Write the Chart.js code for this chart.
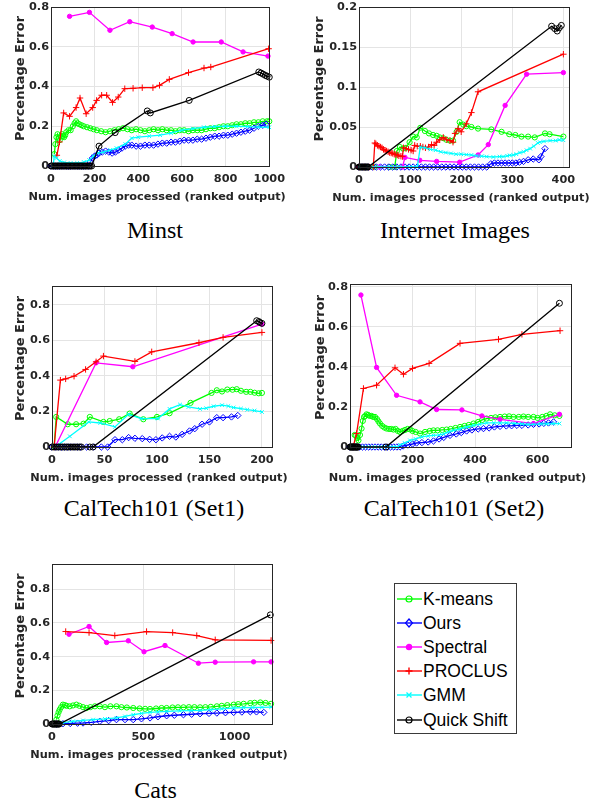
<!DOCTYPE html>
<html>
<head>
<meta charset="utf-8">
<script src="https://cdn.jsdelivr.net/npm/chart.js@4.4.0/dist/chart.umd.min.js"></script>
<style>
    body { margin: 0; background: #fff; width: 596px; height: 803px; position: relative; overflow: hidden; }
    canvas { position: absolute; }
    .title { position: absolute; font-family: "Liberation Serif", "Times New Roman", serif; font-size: 24px; color: #000; white-space: nowrap; transform: translate(-50%, -50%); }
    #legend { position: absolute; left: 394px; top: 583px; width: 121px; height: 149px; border: 1px solid #3a3a3a; background: #fff; }
    .entry { position: absolute; left: 0; height: 24px; font-family: "Liberation Sans", Arial, sans-serif; font-size: 17.5px; color: #000; white-space: nowrap; }
    .entry svg { position: absolute; left: 2px; top: 5px; }
    .entry span { position: absolute; left: 28px; top: 1px; line-height: 22px; }
</style>
</head>
<body>
<div id="legend"></div>
<script>
// series order: K-means, Ours, Spectral, PROCLUS, GMM, Quick Shift
const seriesNames = ["K-means", "Ours", "Spectral", "PROCLUS", "GMM", "Quick Shift"];

// ---- Minst ----
const minstXTicks = [0, 200, 400, 600, 800, 1000];
const minstYTicks = [0, 0.2, 0.4, 0.6, 0.8];
const minstKmeans = [[15,0.06],[20,0.11],[25,0.145],[30,0.16],[35,0.14],[40,0.13],[45,0.15],[50,0.16],[55,0.15],[60,0.145],[65,0.155],[70,0.17],[80,0.18],[90,0.18],[100,0.2],[108,0.215],[115,0.225],[122,0.215],[130,0.21],[140,0.205],[150,0.2],[165,0.195],[180,0.19],[195,0.185],[210,0.18],[230,0.175],[250,0.17],[270,0.175],[290,0.18],[310,0.185],[330,0.19],[350,0.185],[370,0.18],[390,0.185],[410,0.18],[430,0.175],[450,0.18],[470,0.185],[490,0.18],[510,0.185],[530,0.18],[550,0.18],[570,0.175],[590,0.18],[610,0.18],[630,0.175],[650,0.18],[670,0.18],[690,0.18],[710,0.185],[730,0.19],[750,0.19],[770,0.195],[790,0.2],[810,0.2],[830,0.205],[850,0.21],[870,0.21],[890,0.215],[910,0.215],[930,0.22],[950,0.22],[970,0.225],[990,0.225],[1000,0.225]];
const minstOurs = [[0,0],[10,0],[20,0],[30,0],[40,0],[50,0],[60,0],[70,0],[80,0],[90,0],[100,0],[110,0],[120,0],[130,0],[140,0],[150,0],[160,0],[170,0],[180,0.02],[190,0.04],[200,0.05],[210,0.055],[220,0.065],[235,0.07],[250,0.075],[265,0.07],[280,0.065],[295,0.07],[310,0.08],[325,0.09],[340,0.1],[355,0.105],[370,0.105],[390,0.1],[410,0.1],[430,0.105],[450,0.105],[470,0.105],[490,0.11],[510,0.115],[530,0.115],[550,0.12],[570,0.12],[590,0.125],[610,0.13],[630,0.13],[650,0.13],[670,0.135],[690,0.135],[710,0.14],[730,0.145],[750,0.15],[770,0.15],[790,0.155],[810,0.155],[830,0.16],[850,0.165],[870,0.17],[890,0.175],[910,0.18],[930,0.19],[950,0.2],[970,0.205],[985,0.21]];
const minstSpectral = [[85,0.753],[176,0.773],[270,0.683],[361,0.726],[464,0.699],[555,0.666],[651,0.624],[780,0.624],[880,0.574],[994,0.553]];
const minstProclus = [[27,0.054],[39,0.121],[58,0.267],[85,0.25],[115,0.294],[133,0.342],[161,0.263],[191,0.294],[209,0.33],[232,0.356],[255,0.356],[282,0.32],[308,0.347],[338,0.389],[376,0.391],[418,0.394],[467,0.394],[497,0.406],[542,0.436],[630,0.47],[701,0.493],[732,0.498],[997,0.59]];
const minstGmm = [[10,0],[15,0.05],[25,0.04],[40,0.025],[60,0.018],[90,0.015],[120,0.015],[150,0.02],[175,0.03],[195,0.05],[215,0.065],[240,0.07],[270,0.08],[300,0.09],[340,0.11],[370,0.14],[400,0.145],[450,0.15],[500,0.155],[550,0.165],[600,0.18],[650,0.188],[700,0.195],[750,0.198],[800,0.2],[850,0.2],[900,0.198],[950,0.196],[1000,0.195]];
const minstQuick = [[0,0],[6,0],[12,0],[18,0],[24,0],[30,0],[36,0],[42,0],[48,0],[54,0],[60,0],[66,0],[72,0],[78,0],[84,0],[90,0],[96,0],[102,0],[108,0],[114,0],[120,0],[126,0],[132,0],[138,0],[144,0],[150,0],[156,0],[162,0],[168,0],[174,0],[180,0],[186,0],[220,0.1],[294,0.168],[441,0.277],[455,0.267],[633,0.33],[952,0.473],[962,0.468],[972,0.462],[982,0.456],[990,0.452],[1000,0.447]];

// ---- Internet Images ----
const netXTicks = [0, 100, 200, 300, 400];
const netYTicks = [0, 0.05, 0.1, 0.15, 0.2];
const netKmeans = [[0,0],[30,0],[60,0],[70,0],[74,0.02],[80,0.025],[86,0.023],[92,0.024],[99,0.031],[106,0.038],[113,0.037],[120,0.049],[129,0.045],[137,0.042],[145,0.04],[152,0.039],[158,0.037],[165,0.036],[171,0.034],[178,0.033],[184,0.033],[191,0.044],[197,0.056],[204,0.053],[210,0.051],[220,0.05],[233,0.048],[259,0.047],[279,0.044],[294,0.041],[306,0.04],[318,0.038],[331,0.038],[344,0.037],[364,0.042],[373,0.041],[400,0.038]];
const netOurs = [[0,0],[6,0],[12,0],[18,0],[26,0],[34,0],[42,0],[50,0],[58,0],[66,0],[74,0],[82,0],[90,0],[98,0],[106,0],[114,0],[122,0],[130,0],[138,0],[146,0],[154,0],[162,0],[170,0],[178,0],[186,0],[194,0],[202,0],[210,0],[218,0],[226,0],[234,0],[242,0],[250,0],[258,0.004],[265,0.005],[272,0.005],[279,0.005],[286,0.005],[293,0.005],[300,0.005],[307,0.005],[314,0.006],[322,0.007],[331,0.009],[341,0.01],[352,0.009],[356,0.013],[364,0.023]];
const netSpectral = [[0,0],[40,0],[85,0],[90,0.012],[119,0.0084],[152,0.007],[197,0.006],[233,0.015],[253,0.028],[286,0.077],[328,0.116],[400,0.118]];
const netProclus = [[0,0],[10,0],[20,0],[28,0],[31,0.03],[33,0.029],[36,0.027],[39,0.026],[42,0.025],[45,0.024],[48,0.022],[51,0.021],[54,0.02],[57,0.019],[60,0.018],[63,0.0175],[66,0.017],[69,0.016],[72,0.0155],[75,0.015],[78,0.014],[82,0.0135],[85,0.013],[87,0.024],[92,0.023],[97,0.022],[102,0.021],[106,0.02],[109,0.027],[114,0.026],[120,0.026],[125,0.025],[130,0.024],[136,0.025],[142,0.028],[147,0.027],[152,0.031],[158,0.034],[165,0.037],[172,0.034],[178,0.033],[184,0.031],[188,0.042],[194,0.048],[200,0.044],[210,0.054],[220,0.068],[233,0.094],[400,0.141]];
const netGmm = [[0,0],[20,0],[40,0],[60,0],[80,0],[100,0],[114,0],[120,0.025],[130,0.024],[140,0.022],[150,0.021],[160,0.019],[170,0.018],[180,0.017],[190,0.016],[200,0.016],[210,0.0155],[220,0.015],[230,0.014],[240,0.0135],[250,0.013],[263,0.0125],[275,0.013],[282,0.013],[290,0.014],[295,0.0146],[302,0.015],[308,0.016],[315,0.018],[322,0.019],[328,0.021],[335,0.023],[342,0.026],[350,0.03],[354,0.031],[362,0.032],[374,0.033],[385,0.033],[392,0.034],[400,0.0335]];
const netQuick = [[0,0],[2,0],[4,0],[6,0],[8,0],[10,0],[12,0],[14,0],[16,0],[18,0],[377,0.176],[383,0.173],[388,0.17],[392,0.174],[396,0.177]];

// ---- CalTech101 (Set1) ----
const set1XTicks = [0, 50, 100, 150, 200];
const set1YTicks = [0, 0.2, 0.4, 0.6, 0.8];
const set1Kmeans = [[2,0],[4,0.169],[15,0.128],[23,0.128],[30,0.131],[36,0.169],[49,0.141],[55,0.146],[64,0.156],[74,0.188],[87,0.156],[100,0.169],[112,0.19],[132,0.248],[152,0.304],[157,0.319],[162,0.312],[167,0.323],[172,0.322],[176,0.325],[180,0.316],[185,0.31],[189,0.31],[193,0.305],[197,0.302],[200,0.304]];
const set1Ours = [[0,0],[3,0],[6,0],[9,0],[12,0],[15,0],[18,0],[21,0],[24,0],[27,0],[33,0],[40,0],[47,0],[53,0],[60,0.041],[67,0.041],[73,0.053],[79,0.049],[86,0.047],[93,0.043],[99,0.041],[105,0.051],[112,0.06],[118,0.056],[124,0.071],[131,0.09],[136,0.103],[143,0.128],[150,0.141],[157,0.165],[163,0.165],[171,0.169],[177,0.177]];
const set1Spectral = [[3,0],[42,0.473],[77,0.451],[200,0.691]];
const set1Proclus = [[2,0],[8,0.376],[13,0.383],[21,0.398],[32,0.436],[42,0.479],[49,0.511],[79,0.481],[95,0.535],[140,0.586],[163,0.616],[200,0.644]];
const set1Gmm = [[3,0],[17,0.06],[35,0.141],[46,0.135],[60,0.113],[73,0.184],[85,0.16],[101,0.16],[112,0.214],[122,0.238],[130,0.225],[141,0.214],[147,0.218],[154,0.229],[162,0.235],[168,0.23],[173,0.222],[180,0.216],[186,0.21],[193,0.205],[200,0.197]];
const set1Quick = [[0,0],[2,0],[4,0],[6,0],[8,0],[10,0],[12,0],[14,0],[16,0],[18,0],[20,0],[22,0],[24,0],[26,0],[28,0],[36,0],[39,0],[195,0.71],[197,0.705],[198,0.7],[200,0.695]];

// ---- CalTech101 (Set2) ----
const set2XTicks = [0, 200, 400, 600];
const set2YTicks = [0, 0.2, 0.4, 0.6, 0.8];
const set2Kmeans = [[15,0.06],[19,0.058],[23,0.045],[27,0.033],[32,0.06],[37,0.092],[41,0.13],[45,0.15],[49,0.155],[53,0.163],[58,0.16],[63,0.155],[69,0.155],[74,0.15],[80,0.15],[86,0.14],[91,0.128],[96,0.117],[103,0.105],[110,0.097],[117,0.092],[125,0.09],[132,0.09],[139,0.087],[146,0.09],[153,0.08],[160,0.075],[168,0.08],[176,0.085],[184,0.09],[192,0.088],[200,0.08],[210,0.075],[224,0.067],[240,0.075],[255,0.08],[267,0.083],[280,0.083],[295,0.085],[309,0.087],[322,0.09],[337,0.095],[352,0.1],[366,0.105],[380,0.11],[395,0.117],[410,0.125],[423,0.135],[437,0.142],[451,0.145],[465,0.148],[480,0.15],[495,0.152],[509,0.153],[523,0.15],[540,0.15],[555,0.152],[570,0.15],[587,0.15],[600,0.145],[615,0.15],[628,0.155],[640,0.163],[655,0.158],[670,0.155]];
const set2Ours = [[0,0],[10,0],[20,0],[30,0],[40,0],[50,0],[60,0],[70,0],[80,0],[90,0],[100,0],[110,0],[120,0],[130,0],[140,0],[150,0],[160,0],[170,0.005],[185,0.01],[200,0.015],[213,0.02],[230,0.022],[250,0.025],[267,0.03],[285,0.04],[300,0.048],[320,0.058],[340,0.065],[356,0.072],[373,0.08],[390,0.085],[410,0.09],[427,0.092],[445,0.095],[462,0.1],[480,0.103],[500,0.105],[517,0.106],[534,0.108],[550,0.108],[570,0.11],[587,0.113],[605,0.115],[620,0.118],[635,0.12],[651,0.125]];
const set2Spectral = [[35,0.758],[85,0.397],[149,0.258],[224,0.225],[277,0.187],[358,0.185],[422,0.155],[480,0.138],[587,0.117],[670,0.163]];
const set2Proclus = [[10,0],[21,0.067],[43,0.292],[85,0.308],[144,0.395],[171,0.363],[200,0.392],[253,0.417],[352,0.517],[475,0.537],[550,0.562],[672,0.58]];
const set2Gmm = [[0,0],[20,0],[40,0],[60,0],[80,0],[100,0],[120,0],[140,0],[150,0],[160,0.01],[175,0.02],[192,0.033],[210,0.04],[230,0.05],[250,0.055],[267,0.058],[285,0.06],[300,0.065],[315,0.075],[331,0.083],[352,0.09],[373,0.1],[395,0.108],[415,0.113],[437,0.12],[460,0.12],[480,0.12],[501,0.12],[525,0.118],[550,0.115],[570,0.113],[587,0.113],[610,0.115],[630,0.115],[650,0.117],[670,0.117]];
const set2Quick = [[0,0],[2,0],[4,0],[6,0],[8,0],[10,0],[12,0],[14,0],[16,0],[18,0],[20,0],[22,0],[24,0],[26,0],[115,0],[670,0.717]];

// ---- Cats ----
const catsXTicks = [0, 500, 1000];
const catsYTicks = [0, 0.2, 0.4, 0.6, 0.8];
const catsKmeans = [[24,0.026],[30,0.05],[36,0.07],[42,0.085],[50,0.1],[60,0.115],[70,0.112],[80,0.108],[97,0.105],[115,0.11],[134,0.115],[150,0.108],[170,0.1],[189,0.095],[210,0.1],[235,0.105],[262,0.105],[290,0.1],[320,0.105],[353,0.105],[380,0.1],[410,0.098],[445,0.095],[480,0.092],[510,0.09],[537,0.089],[570,0.092],[600,0.095],[628,0.095],[660,0.098],[690,0.099],[720,0.099],[750,0.1],[780,0.1],[811,0.099],[840,0.1],[870,0.102],[903,0.105],[930,0.108],[960,0.112],[995,0.115],[1020,0.118],[1050,0.12],[1086,0.124],[1110,0.126],[1141,0.128],[1170,0.125],[1200,0.12]];
const catsOurs = [[24,0],[60,0.002],[100,0.003],[140,0.005],[170,0.006],[215,0.01],[262,0.016],[310,0.02],[353,0.026],[400,0.026],[445,0.026],[490,0.031],[537,0.036],[580,0.043],[628,0.049],[670,0.052],[720,0.055],[765,0.058],[811,0.061],[860,0.063],[903,0.065],[950,0.067],[995,0.069],[1040,0.071],[1086,0.073],[1120,0.072],[1160,0.069]];
const catsSpectral = [[93,0.533],[203,0.579],[299,0.484],[418,0.494],[504,0.429],[619,0.466],[802,0.361],[894,0.367],[1104,0.369],[1200,0.369]];
const catsProclus = [[75,0.549],[203,0.543],[344,0.525],[518,0.549],[661,0.543],[793,0.525],[894,0.5],[1200,0.496]];
const catsGmm = [[20,0.003],[60,0.008],[115,0.016],[170,0.021],[225,0.026],[290,0.03],[353,0.036],[400,0.045],[445,0.055],[490,0.063],[537,0.069],[580,0.072],[628,0.075],[700,0.078],[760,0.08],[811,0.081],[870,0.085],[930,0.09],[995,0.095],[1050,0.097],[1100,0.098],[1150,0.099],[1200,0.1]];
const catsQuick = [[0,0],[4,0],[8,0],[12,0],[16,0],[20,0],[24,0],[28,0],[32,0],[36,0],[40,0],[1196,0.648]];

// marker / colour per method
const seriesStyles = [
    { color: "#00ff00", point: "circle",   radius: 2.6, filled: false },
    { color: "#0000ff", point: "rectRot",  radius: 3.2, filled: false },
    { color: "#ff00ff", point: "circle",   radius: 2.2, filled: true },
    { color: "#ff0000", point: "cross",    radius: 3.2, filled: false },
    { color: "#00ffff", point: "crossRot", radius: 2.6, filled: false },
    { color: "#000000", point: "circle",   radius: 3.0, filled: false }
];

const panels = [
    { title: "Minst", left: 51, top: 7, w: 220, h: 159, xMax: 1000, yMax: 0.8, xTicks: minstXTicks, yTicks: minstYTicks, yGap: 30, titleX: 155, titleY: 230,
      series: [minstKmeans, minstOurs, minstSpectral, minstProclus, minstGmm, minstQuick] },
    { title: "Internet Images", left: 359, top: 7, w: 210, h: 160, xMax: 411, yMax: 0.2, xTicks: netXTicks, yTicks: netYTicks, yGap: 39, titleX: 455, titleY: 230,
      series: [netKmeans, netOurs, netSpectral, netProclus, netGmm, netQuick] },
    { title: "CalTech101 (Set1)", left: 52, top: 286, w: 220, h: 161, xMax: 209.6, yMax: 0.905, xTicks: set1XTicks, yTicks: set1YTicks, yGap: 31, titleX: 154, titleY: 508,
      series: [set1Kmeans, set1Ours, set1Spectral, set1Proclus, set1Gmm, set1Quick] },
    { title: "CalTech101 (Set2)", left: 350, top: 284, w: 221, h: 163, xMax: 707, yMax: 0.813, xTicks: set2XTicks, yTicks: set2YTicks, yGap: 29.5, titleX: 454, titleY: 508,
      series: [set2Kmeans, set2Ours, set2Spectral, set2Proclus, set2Gmm, set2Quick] },
    { title: "Cats", left: 52, top: 564, w: 220, h: 160, xMax: 1205, yMax: 0.95, xTicks: catsXTicks, yTicks: catsYTicks, yGap: 31, titleX: 155.5, titleY: 790,
      series: [catsKmeans, catsOurs, catsSpectral, catsProclus, catsGmm, catsQuick] }
];

const Y_AXIS_W = 50, X_AXIS_H = 42, PAD_TOP = 10, PAD_RIGHT = 20;
const textColor = "#262626";
const tickFont = { family: "DejaVu Sans", weight: "bold", size: 11.3 };

const framePlugin = {
    id: "frame",
    afterDraw(chart) {
        const ctx = chart.ctx;
        const a = chart.chartArea;
        const opts = chart.options.plugins.frame;
        ctx.save();
        ctx.strokeStyle = textColor;
        ctx.lineWidth = 1;
        ctx.strokeRect(Math.round(a.left) + 0.5, Math.round(a.top) + 0.5, Math.round(a.right - a.left), Math.round(a.bottom - a.top));
        ctx.fillStyle = textColor;
        ctx.textAlign = "center";
        ctx.textBaseline = "middle";
        ctx.font = 'bold 11.3px "DejaVu Sans"';
        ctx.fillText("Num. images processed (ranked output)", (a.left + a.right) / 2 - 3, a.bottom + 31);
        ctx.translate(a.left - opts.yGap, (a.top + a.bottom) / 2 - 8);
        ctx.rotate(-Math.PI / 2);
        ctx.font = 'bold 13px "DejaVu Sans"';
        ctx.fillText("Percentage Error", 0, 0);
        ctx.restore();
    }
};

function fmt(v) {
    return String(Math.round(v * 1000) / 1000);
}

panels.forEach(p => {
    let canvas = document.createElement("canvas");
    canvas.width = p.w + Y_AXIS_W + PAD_RIGHT;
    canvas.height = p.h + PAD_TOP + X_AXIS_H;
    canvas.style.left = (p.left - Y_AXIS_W) + "px";
    canvas.style.top = (p.top - PAD_TOP) + "px";
    document.body.appendChild(canvas);

    let t = document.createElement("div");
    t.className = "title";
    t.textContent = p.title;
    t.style.left = p.titleX + "px";
    t.style.top = p.titleY + "px";
    document.body.appendChild(t);

    let datasets = p.series.map((pts, i) => {
        let s = seriesStyles[i];
        return {
            label: seriesNames[i],
            data: pts.map(d => ({ x: d[0], y: d[1] })),
            borderColor: s.color,
            borderWidth: 1.3,
            pointStyle: s.point,
            pointRadius: s.radius,
            pointBorderColor: s.color,
            pointBorderWidth: 1,
            pointBackgroundColor: s.filled ? s.color : "rgba(0,0,0,0)",
            tension: 0,
            fill: false,
            clip: false,
            order: 5 - i
        };
    });

    new Chart(canvas, {
        type: "line",
        data: { datasets: datasets },
        options: {
            responsive: false,
            animation: false,
            devicePixelRatio: 1,
            layout: { padding: { top: PAD_TOP, right: PAD_RIGHT, left: 0, bottom: 0 } },
            plugins: { legend: { display: false }, tooltip: { enabled: false }, frame: { yGap: p.yGap } },
            scales: {
                x: {
                    type: "linear", min: 0, max: p.xMax,
                    afterFit: s => { s.height = X_AXIS_H; },
                    afterBuildTicks: s => { s.ticks = p.xTicks.map(v => ({ value: v })); },
                    border: { display: false },
                    grid: { color: "#e4e4e4", drawTicks: false },
                    ticks: { autoSkip: false, maxRotation: 0, padding: 6, color: textColor, font: tickFont, callback: fmt }
                },
                y: {
                    type: "linear", min: 0, max: p.yMax,
                    afterFit: s => { s.width = Y_AXIS_W; },
                    afterBuildTicks: s => { s.ticks = p.yTicks.map(v => ({ value: v })); },
                    border: { display: false },
                    grid: { color: "#e4e4e4", drawTicks: false },
                    ticks: { autoSkip: false, padding: 2, color: textColor, font: tickFont, callback: fmt }
                }
            }
        },
        plugins: [framePlugin]
    });
});

// legend box
function markerSvg(s) {
    let c = s.color, m = "";
    if (s.point === "circle") m = `<circle cx="12" cy="7" r="${s.filled ? 2.6 : 3}" fill="${s.filled ? c : "none"}" stroke="${c}" stroke-width="1.2"/>`;
    if (s.point === "rectRot") m = `<polygon points="12,3 15.5,7 12,11 8.5,7" fill="none" stroke="${c}" stroke-width="1.2"/>`;
    if (s.point === "cross") m = `<path d="M12 3.5V10.5M8.5 7H15.5" stroke="${c}" stroke-width="1.4"/>`;
    if (s.point === "crossRot") m = `<path d="M9.5 4.5L14.5 9.5M14.5 4.5L9.5 9.5" stroke="${c}" stroke-width="1.3"/>`;
    return `<svg width="25" height="14"><line x1="0" y1="7" x2="25" y2="7" stroke="${c}" stroke-width="1.4"/>${m}</svg>`;
}

let legend = document.getElementById("legend");
seriesNames.forEach((name, i) => {
    let row = document.createElement("div");
    row.className = "entry";
    row.style.top = (2.5 + i * 24.2) + "px";
    row.innerHTML = markerSvg(seriesStyles[i]) + `<span>${name}</span>`;
    legend.appendChild(row);
});
</script>
</body>
</html>
